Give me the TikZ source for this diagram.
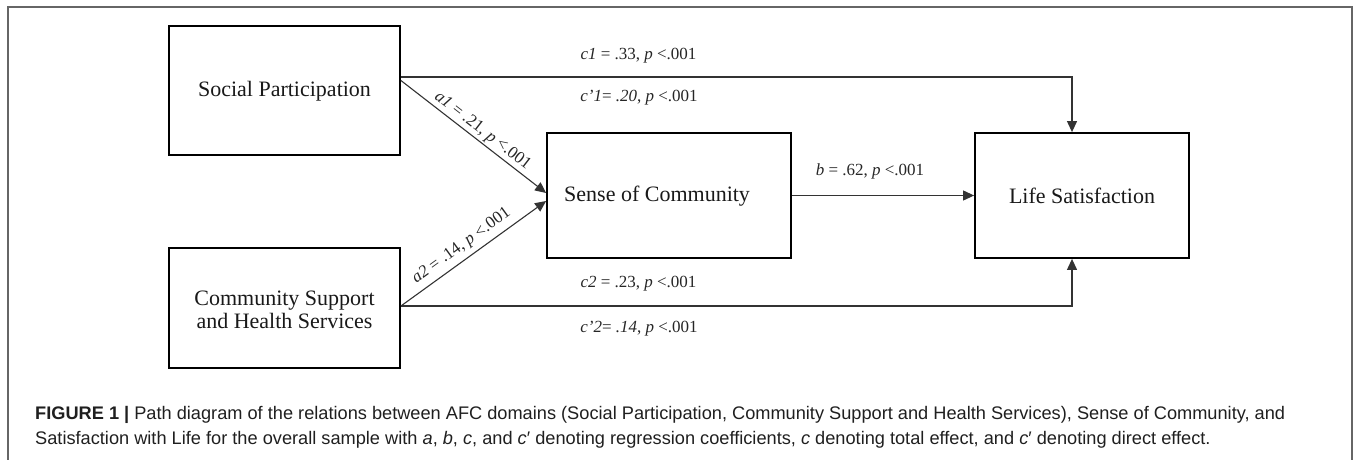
\documentclass[tikz,border=0pt]{standalone}
\usepackage{fontspec}
\setmainfont{Liberation Serif}
\newfontfamily\capfont{Liberation Sans}
\usetikzlibrary{arrows.meta}
\begin{document}
\begin{tikzpicture}[x=1pt,y=-1pt,
  box/.style={draw=black, line width=1.8pt, inner sep=0pt},
  boxtext/.style={font=\fontsize{22}{23}\selectfont, align=center, inner sep=0pt, text=black!90},
  conn/.style={draw=black!80, line width=1.1pt},
  arr/.style={conn, -{Triangle[length=11pt,width=10pt]}},
  coef/.style={font=\fontsize{17}{19}\selectfont, inner sep=0pt, text=black!85},
  captext/.style={font=\capfont\fontsize{18.2}{20}\selectfont, anchor=west, inner sep=0pt, text=black!88},
]
\useasboundingbox (0,0) rectangle (1360,460);
\draw[black!60, line width=1.3pt] (8,462) -- (8,7) -- (1352,7) -- (1352,462);

% boxes
\node[box, minimum width=231pt, minimum height=129pt] (sp) at (284.5,90.5) {};
\node[box, minimum width=231pt, minimum height=120pt] (cs) at (284.5,308) {};
\node[box, minimum width=244pt, minimum height=125pt] (sc) at (669,195.5) {};
\node[box, minimum width=214pt, minimum height=125pt] (ls) at (1082,195.5) {};

% box texts
\node[boxtext] (spT) at (284.5,91) {Social Participation};
\node[boxtext] (csT) at (284.5,309.5) {Community Support\\and Health Services};
\node[boxtext, anchor=west] (scT) at (564,196) {Sense of Community};
\node[boxtext] (lsT) at (1082,196) {Life Satisfaction};

% connectors
\coordinate (t1) at (1072,77);
\coordinate (t2) at (1072,306);
\draw[arr] (sp.east |- t1) -- (t1) -- (ls.north -| t1);
\draw[arr] (cs.east |- t2) -- (t2) -- (ls.south -| t2);
\draw[arr] (sc.east) -- (ls.west);
\draw[arr] ([yshift=10pt]sp.east) -- node[coef, sloped, above=2pt, pos=0.52] (a1L) {\textit{a1} = .21, \textit{p} <.001} ([yshift=2.5pt]sc.west);
\draw[arr] (cs.east |- t2) -- node[coef, sloped, above=5pt, pos=0.47] (a2L) {\textit{a2} = .14, \textit{p} <.001} ([yshift=-5.5pt]sc.west);

% coefficient labels
\node[coef] (c1L) at (638.5,56) {\textit{c1} = .33, \textit{p} <.001};
\node[coef] (cp1L) at (639,98) {\textit{c'1}= \textit{.20}, \textit{p} <.001};
\node[coef] (bL) at (870,171) {\textit{b} = .62, \textit{p} <.001};
\node[coef] (c2L) at (638.5,284) {\textit{c2} = .23, \textit{p} <.001};
\node[coef] (cp2L) at (639,329) {\textit{c'2}= \textit{.14}, \textit{p} <.001};

% caption
\node[captext] (cap1) at (35,415) {\textbf{FIGURE 1 |} Path diagram of the relations between AFC domains (Social Participation, Community Support and Health Services), Sense of Community, and};
\node[captext] (cap2) at (35,440) {Satisfaction with Life for the overall sample with \textit{a}, \textit{b}, \textit{c}, and \textit{c}′ denoting regression coefficients, \textit{c} denoting total effect, and \textit{c}′ denoting direct effect.};
\end{tikzpicture}
\end{document}
